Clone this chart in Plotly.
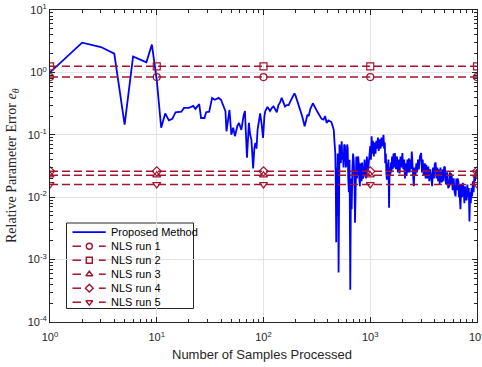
import plotly.graph_objects as go

# ---- data ----
prop_x = [1, 2, 3, 4, 5, 6, 7, 8, 9, 10, 11, 12, 13, 14, 15, 17, 18, 20, 22, 23, 25, 26, 28, 29, 31, 33, 35, 38, 40, 42,
          44, 45, 48, 50, 52, 54, 57, 59, 62, 65, 67, 70, 72, 73, 75, 77, 80, 82, 84, 86, 88, 90, 93, 96, 99, 102, 104,
          109, 112, 115, 120, 124, 128, 133, 138, 143, 148, 153, 159, 165, 172, 178, 186, 195, 200, 208, 214, 220, 230,
          243, 250, 258, 265, 275, 290, 300, 317, 327, 337, 350, 365, 378, 390, 405, 420, 432, 445, 455, 462, 470, 475,
          480, 485, 490, 495, 500, 505, 510, 515, 520, 530,
          540, 548, 555, 562, 570, 580, 590, 600, 608, 615, 622, 630, 640, 650, 660, 670, 680, 690, 700, 710, 720, 730,
          740, 750, 760, 770, 780, 790, 800, 810, 820, 830, 840, 855, 870, 885, 900, 915, 930, 945, 960, 980,
          1000, 1015, 1030, 1045, 1060, 1080, 1100, 1120, 1140, 1160, 1180, 1200, 1225, 1250, 1275, 1300, 1330, 1350,
          1370, 1380, 1400, 1415, 1430, 1445, 1460, 1480, 1500, 1520, 1540, 1560, 1580, 1600, 1625, 1650, 1675, 1700,
          1740, 1780, 1815, 1850, 1885, 1920, 1960, 2000, 2040, 2080, 2115, 2150, 2190, 2230, 2265, 2300, 2340, 2380,
          2415, 2450, 2480, 2500, 2530, 2560, 2600, 2650, 2700, 2750, 2800, 2850, 2920, 3000, 3050, 3100, 3170, 3250,
          3300, 3350, 3420, 3500, 3570, 3650, 3720, 3800, 3870, 3950, 4020, 4100, 4170, 4250, 4320, 4400, 4470, 4550,
          4620, 4700, 4770, 4850, 4920, 5000, 5120, 5250, 5370, 5500, 5570, 5650, 5720, 5800, 5920, 6050, 6170, 6300,
          6400, 6500, 6600, 6700, 6770, 6850, 6920, 7000, 7120, 7250, 7370, 7500, 7620, 7750, 7870, 8000, 8120, 8250,
          8370, 8500, 8620, 8750, 8870, 9000, 9150, 9300, 9450, 9600, 9800, 10000]
prop_y = [1.0, 3.0, 2.55, 2.0, 0.146, 1.8, 1.6, 1.45, 2.8, 0.75, 0.13, 0.22, 0.17, 0.18, 0.23, 0.235, 0.27, 0.27, 0.29,
          0.26, 0.31, 0.186, 0.186, 0.23, 0.235, 0.39, 0.365, 0.39, 0.365, 0.3, 0.24, 0.114, 0.25, 0.1, 0.13, 0.095,
          0.14, 0.155, 0.12, 0.2, 0.24, 0.043, 0.12, 0.155, 0.1, 0.084, 0.029, 0.06, 0.074, 0.06, 0.12, 0.16, 0.22,
          0.15, 0.089, 0.2, 0.24, 0.28, 0.26, 0.24, 0.27, 0.285, 0.26, 0.23, 0.3, 0.33, 0.39, 0.33, 0.285, 0.3, 0.3,
          0.34, 0.4, 0.46, 0.42, 0.34, 0.3, 0.25, 0.2, 0.137, 0.18, 0.21, 0.2, 0.26, 0.32, 0.28, 0.24, 0.22, 0.2, 0.18,
          0.175, 0.2, 0.155, 0.17, 0.165, 0.16, 0.137, 0.12, 0.079, 0.051, 0.02,
          0.0019, 0.03, 0.005, 0.05, 0.02, 0.00062, 0.03, 0.07, 0.06, 0.035,
          0.079, 0.04, 0.05, 0.03, 0.07, 0.066, 0.03, 0.035, 0.07, 0.06, 0.02, 0.012, 0.04, 0.00033, 0.02, 0.0064,
          0.028, 0.05, 0.04, 0.02, 0.0039, 0.04, 0.045, 0.02, 0.025, 0.045, 0.036, 0.02, 0.015, 0.035, 0.03, 0.018,
          0.036, 0.02, 0.022, 0.04, 0.03, 0.02, 0.045, 0.025, 0.03, 0.05,
          0.066, 0.04, 0.095, 0.05, 0.08, 0.045, 0.075, 0.05, 0.08, 0.06, 0.09, 0.055, 0.085, 0.06, 0.09, 0.065, 0.1,
          0.06, 0.075, 0.035, 0.05, 0.025, 0.019, 0.035, 0.025, 0.04, 0.0068, 0.03, 0.022, 0.036, 0.025, 0.045, 0.028,
          0.05, 0.03, 0.051, 0.028, 0.045, 0.025, 0.04, 0.024, 0.045, 0.03, 0.051, 0.028, 0.04, 0.02, 0.035, 0.022,
          0.04, 0.025, 0.042, 0.025, 0.04, 0.028, 0.054, 0.03, 0.04, 0.02, 0.015, 0.03, 0.022, 0.035, 0.025, 0.04,
          0.028, 0.045, 0.051, 0.025, 0.04, 0.022, 0.035, 0.02, 0.033, 0.02, 0.031, 0.018, 0.028, 0.018, 0.015, 0.03,
          0.02, 0.034, 0.036, 0.02, 0.03, 0.018, 0.028, 0.016, 0.03, 0.018, 0.0175, 0.028, 0.018, 0.03, 0.031, 0.016,
          0.025, 0.014, 0.015, 0.025, 0.016, 0.024, 0.022, 0.013, 0.02, 0.012, 0.0103, 0.02, 0.013, 0.02, 0.0175, 0.01,
          0.016, 0.009, 0.0064, 0.016, 0.01, 0.017, 0.0133, 0.008, 0.015, 0.009, 0.0092, 0.016, 0.01, 0.014, 0.0041,
          0.012, 0.008, 0.014, 0.0103, 0.018, 0.012, 0.022, 0.018, 0.026, 0.028]

nls_x = [1, 10, 100, 1000, 10000]
nls_names = ["NLS run 1", "NLS run 2", "NLS run 3", "NLS run 4", "NLS run 5"]
nls_values = [0.84, 1.25, 0.0225, 0.026, 0.016]
nls_symbols = ["circle-open", "square-open", "triangle-up-open", "diamond-open", "triangle-down-open"]
legend_labels = ["Proposed Method"] + nls_names

x_tickvals = [1, 10, 100, 1000, 10000]
x_ticktext = ["10<sup>0</sup>", "10<sup>1</sup>", "10<sup>2</sup>", "10<sup>3</sup>", "10<sup>4</sup>"]
y_tickvals = [1e-4, 1e-3, 1e-2, 1e-1, 1, 10]
y_ticktext = ["10<sup>-4</sup>", "10<sup>-3</sup>", "10<sup>-2</sup>", "10<sup>-1</sup>", "10<sup>0</sup>", "10<sup>1</sup>"]
x_title = "Number of Samples Processed"
y_title = "Relative Parameter Error <i>e</i><sub><i>θ</i></sub>"

NLS_COLOR = "#A2142F"
BLUE = "#0000FF"
AX = "#262626"
NLS_DASH = "8px,4px"
FONT = "Liberation Sans, Arial"

# plot-area geometry in pixels (for the hand-built legend and titles)
W, H = 482, 367
ML, MR, MT, MB = 50, 5, 10, 45
PW, PH = W - ML - MR, H - MT - MB


def px2x(px):
    return (px - ML) / PW


def py2y(py):
    return (H - MB - py) / PH


fig = go.Figure()
fig.add_trace(go.Scatter(x=prop_x, y=prop_y, mode="lines", name="Proposed Method", showlegend=False,
                         line=dict(color=BLUE, width=1.8)))
for name, v, sym in zip(nls_names, nls_values, nls_symbols):
    fig.add_trace(go.Scatter(x=nls_x, y=[v] * len(nls_x), mode="lines+markers", name=name, showlegend=False,
                             line=dict(color=NLS_COLOR, width=1.5, dash=NLS_DASH),
                             marker=dict(symbol=sym, size=7, color=NLS_COLOR,
                                         line=dict(width=1.2, color=NLS_COLOR))))

# ---- legend built by hand (MATLAB-style compact rows) ----
LG_L, LG_T, LG_R, LG_B = 66.5, 223, 193.5, 308.5
ROW0, ROW_STEP = 232.2, 14.0
S_L, S_R, S_M, TXT_X = 72.5, 105.7, 89.3, 108.5
DASH_LEN = 8.5
shapes = [dict(type="rect", xref="paper", yref="paper", x0=px2x(LG_L), x1=px2x(LG_R),
               y0=py2y(LG_B), y1=py2y(LG_T), fillcolor="white", line=dict(color=AX, width=1), layer="between")]
annotations = []
for i, lab in enumerate(legend_labels):
    yy = py2y(ROW0 + i * ROW_STEP)
    if i == 0:
        fig.add_trace(go.Scatter(x=[px2x(S_L), px2x(S_R)], y=[yy, yy], xaxis="x2", yaxis="y2", mode="lines",
                                 showlegend=False, hoverinfo="skip", cliponaxis=False,
                                 line=dict(color=BLUE, width=1.8)))
    else:
        for a, b in ((S_L, S_L + DASH_LEN), (S_R - DASH_LEN * 0.8, S_R)):
            fig.add_trace(go.Scatter(x=[px2x(a), px2x(b)], y=[yy, yy], xaxis="x2", yaxis="y2", mode="lines",
                                     showlegend=False, hoverinfo="skip", cliponaxis=False,
                                     line=dict(color=NLS_COLOR, width=1.5)))
        fig.add_trace(go.Scatter(x=[px2x(S_M)], y=[yy], xaxis="x2", yaxis="y2", mode="markers",
                                 showlegend=False, hoverinfo="skip", cliponaxis=False,
                                 marker=dict(symbol=nls_symbols[i - 1], size=6, color=NLS_COLOR,
                                             line=dict(width=1.4, color=NLS_COLOR))))
    annotations.append(dict(x=px2x(TXT_X), y=yy, xref="paper", yref="paper", text=lab, showarrow=False,
                            xanchor="left", yanchor="middle",
                            font=dict(family=FONT, size=11, color="#000000")))

# axis titles placed as MATLAB does
annotations.append(dict(x=px2x(262), y=py2y(354), xref="paper", yref="paper", text=x_title, showarrow=False,
                        xanchor="center", yanchor="middle", font=dict(family=FONT, size=13, color=AX)))
annotations.append(dict(x=px2x(12), y=py2y(166), xref="paper", yref="paper", text=y_title, showarrow=False,
                        textangle=-90, xanchor="center", yanchor="middle",
                        font=dict(family="Liberation Serif, Times New Roman", size=14, color=AX)))
# last x tick label (clipped by the figure edge, as in the original)
annotations.append(dict(x=4, y=py2y(336), xref="x", yref="paper", text=x_ticktext[-1], showarrow=False,
                        xanchor="center", yanchor="middle", font=dict(family=FONT, size=11, color=AX)))

minor_x = [m * 10 ** e for e in range(0, 4) for m in range(2, 10)]
minor_y = [m * 10.0 ** e for e in range(-4, 1) for m in range(2, 10)]

xaxis = dict(type="log", range=[0, 4], tickvals=x_tickvals, ticktext=x_ticktext, automargin=False,
             showline=True, linecolor=AX, linewidth=1, mirror="allticks",
             ticks="inside", ticklen=5, tickcolor=AX, ticklabelstandoff=5,
             showgrid=True, gridcolor="#E3E3E3", gridwidth=1, zeroline=False,
             minor=dict(tickvals=minor_x, ticks="inside", ticklen=3, tickcolor=AX, showgrid=False),
             tickfont=dict(family=FONT, size=11, color=AX))
yaxis = dict(type="log", range=[-4, 1], tickvals=y_tickvals, ticktext=y_ticktext, automargin=False,
             showline=True, linecolor=AX, linewidth=1, mirror="allticks",
             ticks="inside", ticklen=5, tickcolor=AX,
             showgrid=True, gridcolor="#E3E3E3", gridwidth=1, zeroline=False,
             minor=dict(tickvals=minor_y, ticks="inside", ticklen=3, tickcolor=AX, showgrid=False),
             tickfont=dict(family=FONT, size=11, color=AX))

fig.update_layout(width=W, height=H, margin=dict(l=ML, r=MR, t=MT, b=MB, autoexpand=False),
                  plot_bgcolor="white", paper_bgcolor="white", showlegend=False,
                  xaxis=xaxis, yaxis=yaxis,
                  xaxis2=dict(overlaying="x", range=[0, 1], visible=False, fixedrange=True),
                  yaxis2=dict(overlaying="y", range=[0, 1], visible=False, fixedrange=True),
                  shapes=shapes, annotations=annotations)

fig.write_html("out.html", config={"displayModeBar": False},
               post_script="document.body.style.margin='0';document.body.style.padding='0';")
